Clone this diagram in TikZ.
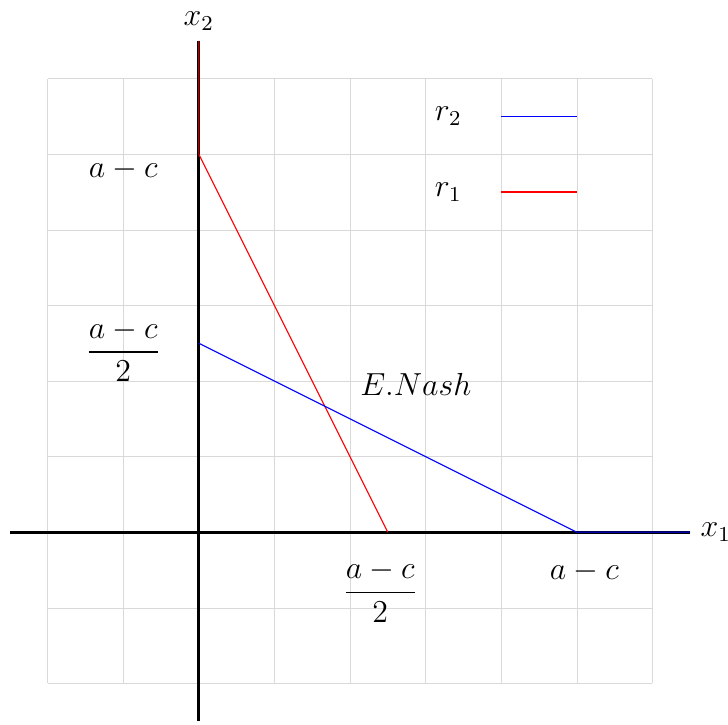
\documentclass[tikz,border=0pt]{standalone}
\usepackage{amsmath}
\usepackage{tikz}
\usepackage{xcolor}
\usetikzlibrary{positioning, calc}
\tikzset{
  gridline/.style={help lines, color=gray!30},
  axis/.style={very thick, black},
  resp/.style={thin, color=#1},
  resp/.default=red,
  lbl/.style={font=\large}
}

\begin{document}
\begin{tikzpicture}[every node/.style={font=\large, align=center}]
    \useasboundingbox (-2.63,-2.54) rectangle (7.0,7.04);

    % Grid
    \draw[gridline] (-2,-2) grid (6,6);

    % Axes
    \coordinate (o) at (0,0);
    \draw[axis] (-2.5,0) -- (6.5,0) node[right] (x1) {$x_1$};
    \draw[axis] (0,-2.5) -- (0,6.5) node[above] (x2) {$x_2$};

    % Key points
    \coordinate (r1a) at (0,5);
    \coordinate (r1b) at (2.5,0);
    \coordinate (r2a) at (0,2.5);
    \coordinate (r2b) at (5,0);
    \coordinate (r1top) at (0,6.5);
    \coordinate (r2end) at (6.5,0);

    % Reaction functions
    \draw[resp=red] (r1top) -- (r1a) -- (r1b);
    \draw[resp=blue] (r2a) -- (r2b) -- (r2end);

    % Axis labels
    \node (ly1) at (-1,4.8) {$a-c$};
    \node (ly2) at (-1,2.4) {$\dfrac{a-c}{2}$};
    \node (lx2) at (2.4,-0.78) {$\dfrac{a-c}{2}$};
    \node (lx1) at (5.1,-0.52) {$a-c$};

    % Equilibrium
    \node (nash) at (2.87,1.96) {$E.Nash$};

    % Legend
    \node (k2) at (3.3,5.5) {$r_2$};
    \node (k1) at (3.3,4.5) {$r_1$};
    \coordinate (k2a) at (4,5.5);
    \coordinate (k2b) at (5,5.5);
    \coordinate (k1a) at (4,4.5);
    \coordinate (k1b) at (5,4.5);
    \draw[resp=blue] (k2a) -- (k2b);
    \draw[resp=red] (k1a) -- (k1b);
\end{tikzpicture}
\end{document}
